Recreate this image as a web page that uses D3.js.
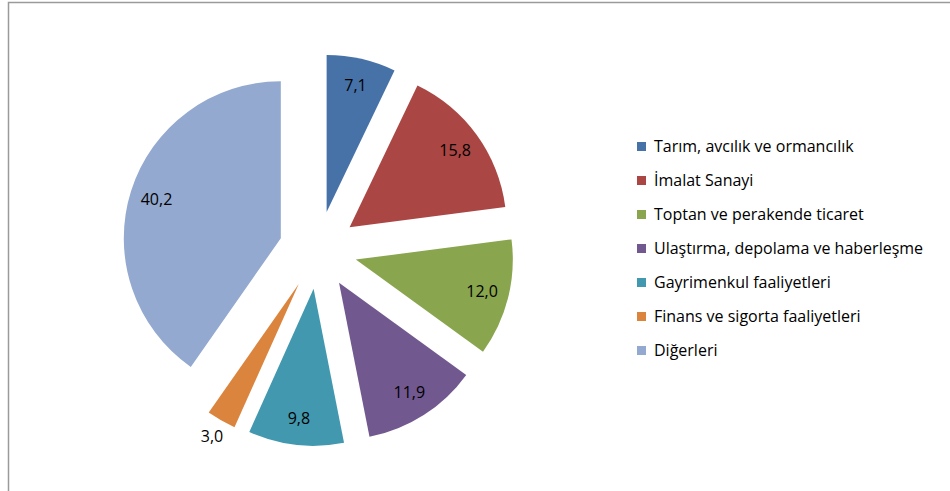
<!DOCTYPE html>
<html>
<head>
<meta charset="utf-8">
<script src="https://cdn.jsdelivr.net/npm/d3@7"></script>
<style>
  body { margin: 0; background: #fff; }
  svg text { font-family: "Open Sans", "Noto Sans", sans-serif; }
</style>
</head>
<body>
<div id="chart"></div>
<script>
var svgWidth = 950;
var svgHeight = 491;

// sectors and their shares (%)
var categories = [
  "Tarım, avcılık ve ormancılık",
  "İmalat Sanayi",
  "Toptan ve perakende ticaret",
  "Ulaştırma, depolama ve haberleşme",
  "Gayrimenkul faaliyetleri",
  "Finans ve sigorta faaliyetleri",
  "Diğerleri"
];
var values = [7.1, 15.8, 12.0, 11.9, 9.8, 3.0, 40.2];
var valueLabels = ["7,1", "15,8", "12,0", "11,9", "9,8", "3,0", "40,2"];
var colors = ["#4672A8", "#AA4643", "#89A54E", "#71588F", "#4198AF", "#DB843D", "#93A9CF"];

var cx = 318, cy = 250;
var radius = 157;
var explode = 39;

var svg = d3.select("#chart")
  .append("svg")
  .attr("width", svgWidth)
  .attr("height", svgHeight);

// chart frame
svg.append("path")
  .attr("d", `M8.5,${svgHeight} V2.5 H${svgWidth}`)
  .attr("fill", "none")
  .attr("stroke", "#9a9a9a")
  .attr("stroke-width", 1.5);

var pie = d3.pie().sort(null).value(d => d);
var arcs = pie(values);
var arc = d3.arc().innerRadius(0).outerRadius(radius);

var color = d3.scaleOrdinal().domain(categories).range(colors);

var chartGroup = svg.append("g")
  .attr("transform", `translate(${cx}, ${cy})`);

function offset(d, dist) {
  var a = (d.startAngle + d.endAngle) / 2;
  return [Math.sin(a) * dist, -Math.cos(a) * dist];
}

var slices = chartGroup.selectAll("g.slice")
  .data(arcs)
  .enter()
  .append("g")
  .attr("class", "slice")
  .attr("transform", d => `translate(${offset(d, explode)})`);

slices.append("path")
  .attr("d", arc)
  .attr("fill", (d, i) => color(categories[i]));

// value labels: inside the slice, small slices outside
slices.append("text")
  .attr("transform", d => {
    var small = (d.endAngle - d.startAngle) < 0.25;
    return `translate(${offset(d, radius * (small ? 1.12 : 0.83))})`;
  })
  .attr("text-anchor", "middle")
  .attr("dy", "0.35em")
  .attr("font-size", "16px")
  .attr("fill", "#000")
  .text((d, i) => valueLabels[i]);

// legend
var legend = svg.append("g")
  .attr("transform", "translate(637, 146)");

var legendItems = legend.selectAll("g")
  .data(categories)
  .enter()
  .append("g")
  .attr("transform", (d, i) => `translate(0, ${i * 34})`);

legendItems.append("rect")
  .attr("x", 0)
  .attr("y", -4)
  .attr("width", 9)
  .attr("height", 9)
  .attr("fill", d => color(d));

legendItems.append("text")
  .attr("x", 17)
  .attr("dy", "0.35em")
  .attr("font-size", "16px")
  .attr("fill", "#000")
  .text(d => d);
</script>
</body>
</html>
